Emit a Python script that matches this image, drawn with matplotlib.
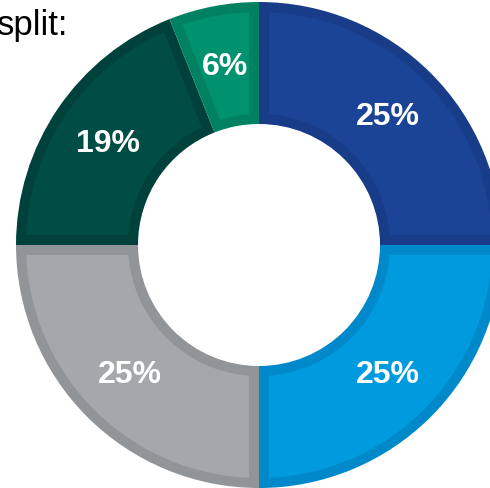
import numpy as np
import matplotlib.pyplot as plt
from matplotlib.patches import Polygon

# share of each segment, clockwise from 12 o'clock
labels = ['25%', '25%', '25%', '19%', '6%']
shares = [25, 25, 25, 19, 6]
fills = ['#1b4496', '#009ade', '#a5a8ab', '#004d45', '#00916e']
borders = ['#183c88', '#0089ca', '#929598', '#00423b', '#008262']

W, H, DPI = 490, 489, 100
CX, CY, R = 259, 246, 243    # centre and outer radius in pixels
HOLE = 0.498
BORDER_PX = 10

fig = plt.figure(figsize=(W / DPI, H / DPI), dpi=DPI)
ax = fig.add_axes([0, 0, 1, 1])

# the darker colour fills the whole segment, the lighter one is inset on top
wedges, _ = ax.pie(shares, colors=borders, startangle=90, counterclock=False,
                   radius=1.0, wedgeprops=dict(width=1 - HOLE, linewidth=0))

d = BORDER_PX / R
ro, ri = 1 - d, HOLE + d
for w, fc in zip(wedges, fills):
    t1, t2 = np.deg2rad(w.theta1), np.deg2rad(w.theta2)
    a_out = np.linspace(t1 + np.arcsin(d / ro), t2 - np.arcsin(d / ro), 120)
    a_in = np.linspace(t2 - np.arcsin(d / ri), t1 + np.arcsin(d / ri), 120)
    pts = np.concatenate([
        np.column_stack([ro * np.cos(a_out), ro * np.sin(a_out)]),
        np.column_stack([ri * np.cos(a_in), ri * np.sin(a_in)]),
    ])
    ax.add_patch(Polygon(pts, closed=True, facecolor=fc, edgecolor='none'))

# percentage labels in the middle of the ring
mid_r = 0.749
for w, lab in zip(wedges, labels):
    ang = np.deg2rad((w.theta1 + w.theta2) / 2)
    ax.text(mid_r * np.cos(ang), mid_r * np.sin(ang), lab, color='white',
            fontsize=23, fontweight='bold', family='Liberation Sans',
            ha='center', va='center')

ax.set_xlim(-CX / R, (W - CX) / R)
ax.set_ylim(-(H - CY) / R, CY / R)
ax.set_aspect('auto')
ax.axis('off')

fig.text(68 / W, 1 - 35 / H, 'split:', fontsize=25, family='Liberation Sans',
         ha='right', va='baseline', color='black')

fig.savefig('out.png', dpi=DPI)
